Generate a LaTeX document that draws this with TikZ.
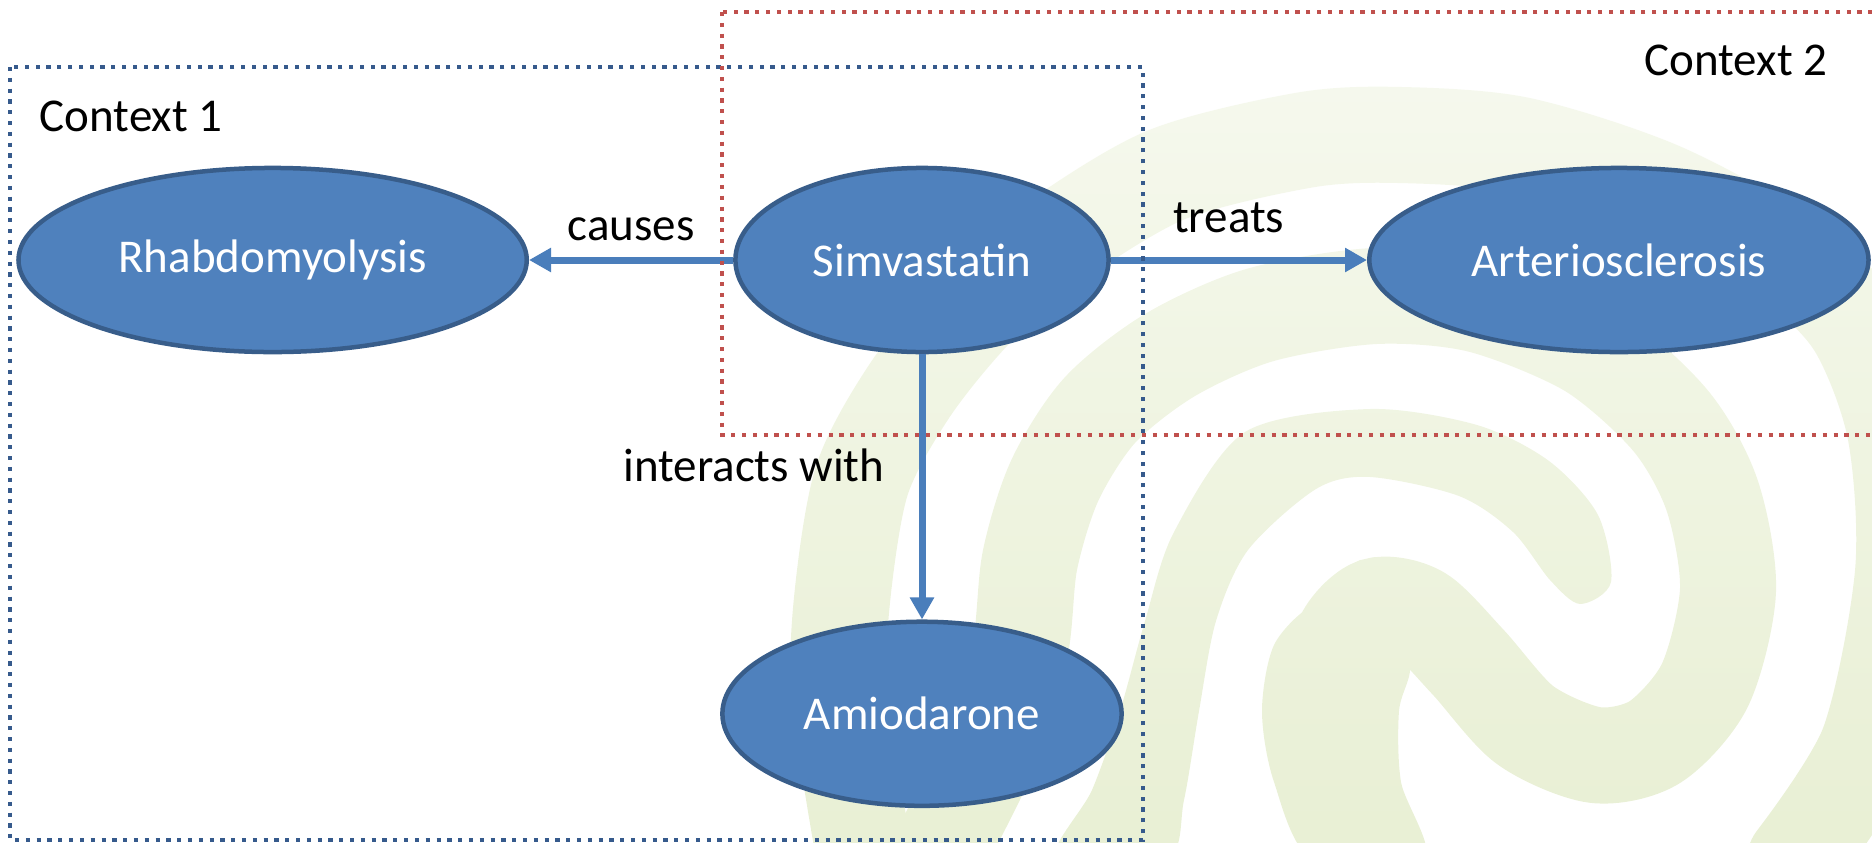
\documentclass[tikz,border=0pt]{standalone}
\usepackage{fontspec}
\setmainfont{Carlito}
\usetikzlibrary{shapes.geometric, arrows.meta, positioning, fadings}
\usepackage{xcolor}
\definecolor{nodefill}{RGB}{79, 129, 189}
\definecolor{nodeline}{RGB}{56, 93, 138}
\definecolor{linkblue}{RGB}{74, 126, 187}
\definecolor{ctxblue}{RGB}{54, 90, 140}
\definecolor{ctxred}{RGB}{192, 80, 77}
\definecolor{swirl}{RGB}{233, 240, 213}

\tikzfading[name=paletop, top color=transparent!35, bottom color=transparent!100]

\begin{document}
\begin{tikzpicture}[
    x=0.01cm, y=-0.01cm,
    font=\fontsize{13.37pt}{16pt}\selectfont,
    concept/.style={ellipse, draw=nodeline, line width=0.045cm, fill=nodefill, text=white, inner sep=0pt, minimum height=1.84cm},
    arrow/.style={-{Triangle[length=0.22cm, width=0.23cm]}, draw=linkblue, line width=0.07cm},
    rel/.style={text=black, inner sep=0pt},
    ctx/.style={line width=0.045cm, dash pattern=on 0.042cm off 0.066cm},
    band/.style={draw=swirl, line width=0.96cm, line cap=round}
]
\useasboundingbox (0,0) rectangle (1872,842);

% background swirl
\draw[band] plot[smooth] coordinates {(865,860) (840,700) (842,600) (862,480) (910,390) (975,310) (1050,245) (1166,175) (1305,140) (1400,135) (1520,145) (1660,190) (1788,260) (1855,325) (1895,430) (1903,573) (1868,745) (1795,860)};
\draw[band] plot[smooth] coordinates {(935,860) (990,750) (1020,650) (1030,560) (1055,480) (1100,410) (1170,355) (1260,315) (1375,296) (1480,305) (1590,350) (1670,420) (1712,495) (1728,590) (1705,685) (1655,742) (1595,755) (1525,725) (1468,662) (1420,614) (1375,606) (1342,640) (1332,711) (1345,782) (1372,860)};
\fill[swirl] plot[smooth cycle] coordinates {(1313,860) (1274,782) (1262,711) (1274,645) (1312,606) (1352,610) (1392,632) (1410,668) (1399,711) (1401,782) (1424,860)};
\fill[swirl] plot[smooth cycle] coordinates {(1611,582) (1598,515) (1549,461) (1477,425) (1370,409) (1245,432) (1174,532) (1145,621) (1120,711) (1092,790) (1056,860) (1166,860) (1184,800) (1199,711) (1216,621) (1248,550) (1316,489) (1370,477) (1459,496) (1513,532) (1550,580) (1580,604)};
\fill[white, path fading=paletop] (0,0) rectangle (1872,842);

\node[concept, minimum width=3.73cm] (simva) at (922,260) {Simvastatin};
\node[concept, minimum width=5.08cm, left=2.04cm of simva] (rhabdo) {Rhabdomyolysis};
\node[concept, minimum width=4.99cm, right=2.56cm of simva] (arterio) {Arteriosclerosis};
\node[concept, minimum width=3.99cm, below=2.65cm of simva] (amio) {Amiodarone};

\draw[arrow] (simva) -- node[rel, above=0.16cm] {causes} (rhabdo);
\draw[arrow] (simva) -- node[rel, above=0.24cm, pos=0.46] {treats} (arterio);
\draw[arrow] (simva) -- node[rel, left=0.34cm, pos=0.42] {interacts with} (amio);

\draw[ctx, draw=ctxblue] (10,67) rectangle (1143,840);
\draw[ctx, draw=ctxred] (722,12) rectangle (1890,435);
\node[rel, anchor=base west] (ctxone) at (39,131) {Context 1};
\node[rel, anchor=base east] (ctxtwo) at (1828,75) {Context 2};
\end{tikzpicture}
\end{document}
